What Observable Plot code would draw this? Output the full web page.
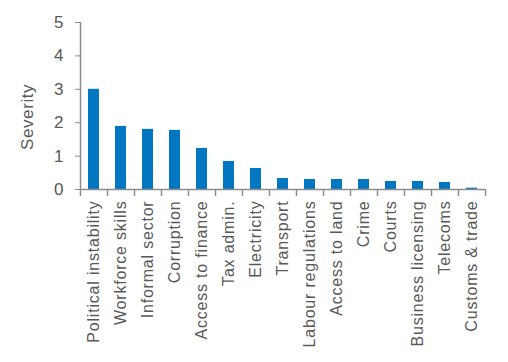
<!DOCTYPE html>
<html>
<head>
<meta charset="utf-8">
<script src="https://cdn.jsdelivr.net/npm/d3@7"></script>
<script src="https://cdn.jsdelivr.net/npm/@observablehq/plot@0.6"></script>
<style>
  body { margin: 0; background: #fff; }
  #chart svg { font-family: "Liberation Sans", Arial, sans-serif; }
</style>
</head>
<body>
<div id="chart"></div>
<script>
const categories = ["Political instability", "Workforce skills", "Informal sector", "Corruption",
  "Access to finance", "Tax admin.", "Electricity", "Transport", "Labour regulations",
  "Access to land", "Crime", "Courts", "Business licensing", "Telecoms", "Customs & trade"];
const severity = [3.0, 1.89, 1.80, 1.77, 1.23, 0.84, 0.63, 0.33, 0.30, 0.30, 0.30, 0.24, 0.24, 0.21, 0.04];
const yTicks = [0, 1, 2, 3, 4, 5];
const yLabel = "Severity";

const data = categories.map((c, i) => ({category: c, value: severity[i]}));

const W = 508, H = 362;
const mL = 80, mR = 23, mT = 22, mB = 173;
const step = (W - mL - mR) / categories.length;
const tickLen = 7 * (yTicks[yTicks.length - 1] - yTicks[0]) / (H - mT - mB);
const axisColor = "#8c8c8c";
const textColor = "#595959";

const chart = Plot.plot({
  width: W,
  height: H,
  marginLeft: mL,
  marginRight: mR,
  marginTop: mT,
  marginBottom: mB,
  style: {fontSize: "16px", color: textColor, background: "#fff"},
  x: {domain: categories, paddingInner: 0.6, paddingOuter: 0.3, label: null},
  y: {domain: [yTicks[0], yTicks[yTicks.length - 1]], label: null},
  marks: [
    Plot.barY(data, {x: "category", y: "value", fill: "#0077c0"}),
    Plot.ruleY([0], {stroke: axisColor, strokeWidth: 1.5}),
    Plot.ruleX([categories[0]], {x: d => d, dx: -step / 2, y1: yTicks[0], y2: yTicks[yTicks.length - 1], stroke: axisColor, strokeWidth: 1.5}),
    Plot.ruleX(categories, {x: d => d, dx: -step / 2, y1: 0, y2: -tickLen, stroke: axisColor, strokeWidth: 1.5, clip: false}),
    Plot.ruleX([categories[categories.length - 1]], {x: d => d, dx: step / 2, y1: 0, y2: -tickLen, stroke: axisColor, strokeWidth: 1.5, clip: false}),
    Plot.axisY({ticks: yTicks, tickFormat: d3.format("d"), tickSize: 5, tickPadding: 12, stroke: axisColor, fill: textColor, fontSize: 17, label: null}),
    Plot.axisX({tickSize: 0, tickRotate: -90, tickPadding: 11, fill: textColor, fontSize: 16, label: null}),
    Plot.text([yLabel], {frameAnchor: "left", rotate: -90, dx: -53, dy: 44, fill: textColor, fontSize: 17})
  ]
});
d3.select(chart).selectAll('g[aria-label="x-axis tick label"] text').attr("letter-spacing", "0.8px");
d3.select(chart).selectAll('g[aria-label="text"] text').attr("letter-spacing", "0.6px");
document.getElementById("chart").appendChild(chart);
</script>
</body>
</html>
